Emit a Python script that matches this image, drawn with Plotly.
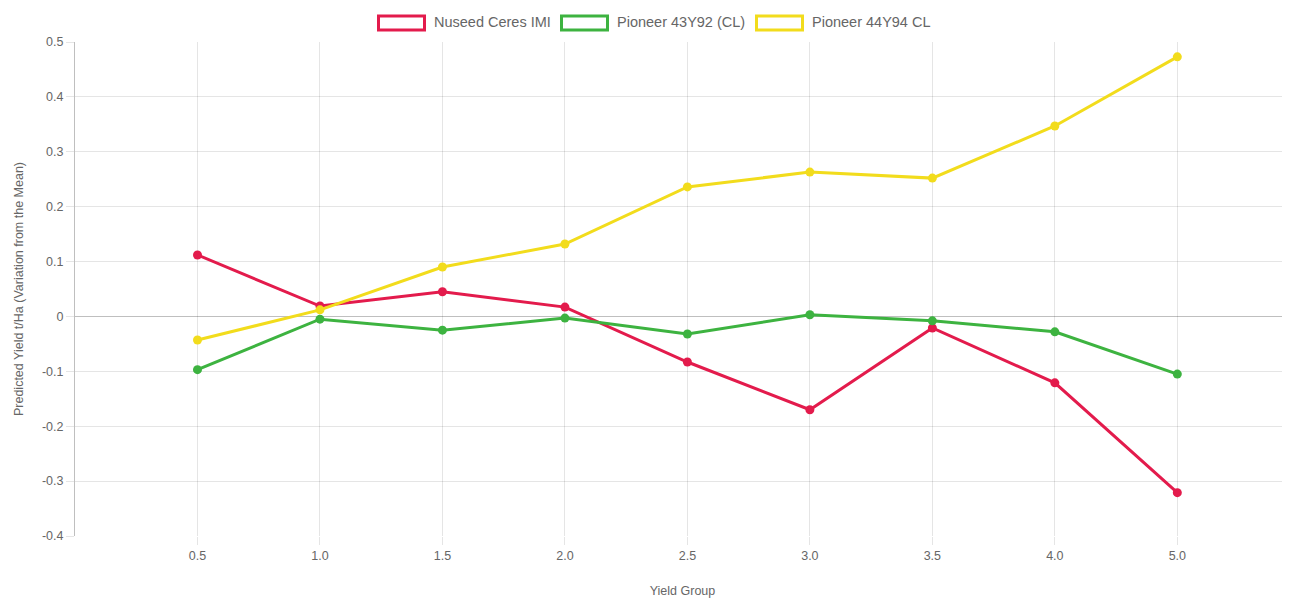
import plotly.graph_objects as go

categories = ["0.5", "1.0", "1.5", "2.0", "2.5", "3.0", "3.5", "4.0", "5.0"]
nuseed = [0.112, 0.019, 0.045, 0.017, -0.083, -0.170, -0.021, -0.121, -0.321]
pioneer_43 = [-0.097, -0.005, -0.025, -0.003, -0.032, 0.003, -0.008, -0.028, -0.105]
pioneer_44 = [-0.043, 0.012, 0.090, 0.132, 0.236, 0.263, 0.252, 0.347, 0.473]
series_names = ["Nuseed Ceres IMI", "Pioneer 43Y92 (CL)", "Pioneer 44Y94 CL"]
colors = ["#e31b4c", "#3db340", "#f2dc1c"]
y_ticks = [0.5, 0.4, 0.3, 0.2, 0.1, 0, -0.1, -0.2, -0.3, -0.4]
y_tick_labels = ["0.5", "0.4", "0.3", "0.2", "0.1", "0", "-0.1", "-0.2", "-0.3", "-0.4"]

OFF = 8  # page body margin
W, H = 1290 - OFF, 599 - OFF
ml, mr, mt, mb = 75 - OFF, 0, 42 - OFF, 599 - 536

fig = go.Figure()
for name, vals, col in zip(series_names, [nuseed, pioneer_43, pioneer_44], colors):
    fig.add_trace(go.Scatter(
        x=categories, y=vals, name=name, mode="lines+markers",
        line=dict(color=col, width=3),
        marker=dict(color=col, size=9),
        showlegend=False,
    ))

font = dict(family="Liberation Sans, Arial, sans-serif", size=12.5, color="#666666")
legend_font = dict(family="Liberation Sans, Arial, sans-serif", size=14.5, color="#666666")

# manual legend: outlined boxes + labels (reference pixel → paper conversion)
def px_x(p):
    return (p - OFF - ml) / (W - ml - mr)

def px_y(p):
    return 1 - (p - OFF - mt) / (H - mt - mb)

legend_box_x = [377, 560, 755]
shapes = []
annotations = []
for bx, name, col in zip(legend_box_x, series_names, colors):
    shapes.append(dict(type="rect", xref="paper", yref="paper",
                       x0=px_x(bx + 1.5), x1=px_x(bx + 47.5),
                       y0=px_y(30), y1=px_y(16),
                       line=dict(color=col, width=3), fillcolor="rgba(255,255,255,0)"))
    annotations.append(dict(text=name, xref="paper", yref="paper",
                            x=px_x(bx + 55), y=px_y(22.5), xanchor="left", yanchor="middle",
                            showarrow=False, font=legend_font))

fig.update_layout(
    width=W, height=H,
    margin=dict(l=ml, r=mr, t=mt, b=mb),
    paper_bgcolor="white", plot_bgcolor="white",
    font=font,
    shapes=shapes,
    annotations=annotations,
    xaxis=dict(
        type="category", range=[-1.0, 8.92],
        showgrid=True, gridcolor="rgba(0,0,0,0.1)", gridwidth=1,
        ticks="outside", ticklen=8, tickcolor="rgba(0,0,0,0.1)",
        showline=False, zeroline=False,
        title=dict(text="Yield Group", font=font, standoff=24),
        tickfont=font,
    ),
    yaxis=dict(
        range=[-0.4, 0.5], tickvals=y_ticks, ticktext=y_tick_labels,
        showgrid=True, gridcolor="rgba(0,0,0,0.1)", gridwidth=1,
        zeroline=True, zerolinecolor="rgba(0,0,0,0.25)", zerolinewidth=1,
        showline=True, linecolor="rgba(0,0,0,0.25)", linewidth=1,
        ticks="outside", ticklen=8, tickcolor="rgba(0,0,0,0.1)",
        title=dict(text="Predicted Yield t/Ha (Variation from the Mean)", font=font, standoff=15),
        tickfont=font,
    ),
)

fig.write_html("out.html")
